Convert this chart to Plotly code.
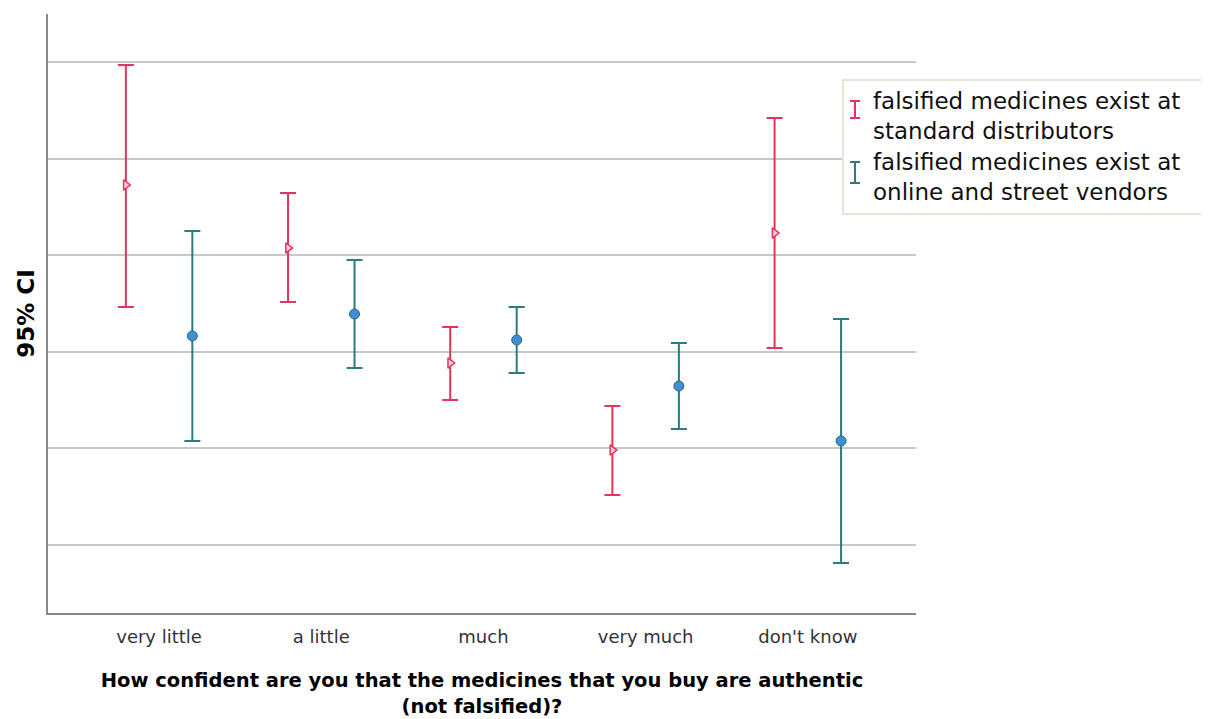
import plotly.graph_objects as go

categories = ["very little", "a little", "much", "very much", "don't know"]

std_mean = [4.727, 4.075, 2.884, 1.983, 4.230]
std_upper = [5.969, 4.644, 3.257, 2.439, 5.420]
std_lower = [3.464, 3.516, 2.501, 1.518, 3.039]

onl_mean = [3.164, 3.391, 3.122, 2.646, 2.077]
onl_upper = [4.251, 3.950, 3.464, 3.091, 3.340]
onl_lower = [2.077, 2.832, 2.781, 2.201, 0.814]

series_names = ["falsified medicines exist at<br>standard distributors",
                "falsified medicines exist at<br>online and street vendors"]

RED = "#e6335c"
TEAL = "#2b7c7c"
offset = 0.205
idx = list(range(len(categories)))
FONT = "DejaVu Sans, Liberation Sans, Arial, sans-serif"

# plot-area geometry in screenshot pixels (for the hand-built legend)
PX_L, PX_R, PX_T, PX_B = 48, 916, 14, 613


def px2paper_x(px):
    return (px - PX_L) / (PX_R - PX_L)


def px2paper_y(py):
    return (PX_B - py) / (PX_B - PX_T)


fig = go.Figure()

fig.add_trace(go.Scatter(
    x=[i - offset for i in idx], y=std_mean, mode="markers", name=series_names[0], showlegend=False,
    marker=dict(symbol="triangle-right", size=9, color="#fbd3de", line=dict(color=RED, width=1.5)),
    error_y=dict(type="data", symmetric=False,
                 array=[u - m for u, m in zip(std_upper, std_mean)],
                 arrayminus=[m - l for m, l in zip(std_mean, std_lower)],
                 color=RED, thickness=2, width=8),
))
fig.add_trace(go.Scatter(
    x=[i + offset for i in idx], y=onl_mean, mode="markers", name=series_names[1], showlegend=False,
    marker=dict(symbol="circle", size=10, color="#3f8fd8", line=dict(color="#2a6a70", width=1)),
    error_y=dict(type="data", symmetric=False,
                 array=[u - m for u, m in zip(onl_upper, onl_mean)],
                 arrayminus=[m - l for m, l in zip(onl_mean, onl_lower)],
                 color=TEAL, thickness=2, width=8),
))

shapes = []
annotations = []
# legend box
shapes.append(dict(type="rect", xref="paper", yref="paper",
                   x0=px2paper_x(843), x1=px2paper_x(1220),
                   y0=px2paper_y(214), y1=px2paper_y(80),
                   line=dict(color="#e6e6d6", width=2), fillcolor="white", layer="above"))
legend_rows = [(RED, 101, 118, 115.5), (TEAL, 162, 183, 176.5)]
for (col, ytop, ybot, ytext), name in zip(legend_rows, series_names):
    xc = 855
    for seg in [(xc, ytop, xc, ybot), (xc - 5, ytop, xc + 5, ytop), (xc - 5, ybot, xc + 5, ybot)]:
        shapes.append(dict(type="line", xref="paper", yref="paper",
                           x0=px2paper_x(seg[0]), y0=px2paper_y(seg[1]),
                           x1=px2paper_x(seg[2]), y1=px2paper_y(seg[3]),
                           line=dict(color=col, width=2), layer="above"))
    annotations.append(dict(xref="paper", yref="paper", x=px2paper_x(871), y=px2paper_y(ytext),
                            xanchor="left", yanchor="middle", align="left", showarrow=False,
                            text=name, font=dict(family=FONT, size=23, color="#111")))

fig.update_layout(
    width=1201, height=711,
    margin=dict(l=40, r=293, t=6, b=106),
    plot_bgcolor="white", paper_bgcolor="white",
    font=dict(family=FONT, color="#000"),
    showlegend=False,
    shapes=shapes, annotations=annotations,
    xaxis=dict(
        range=[-0.685, 4.667], tickmode="array", tickvals=idx, ticktext=categories,
        showgrid=False, zeroline=False, showline=True, linecolor="#888", linewidth=2,
        ticks="", tickfont=dict(size=18, color="#333"), ticklabelstandoff=6,
        title=dict(text="<b>How confident are you that the medicines that you buy are authentic<br>(not falsified)?</b>",
                   font=dict(size=19.5, color="#000"), standoff=28),
    ),
    yaxis=dict(
        range=[0.296, 6.497], tickmode="array", tickvals=[1, 2, 3, 4, 5, 6],
        showticklabels=False, ticks="",
        showgrid=True, gridcolor="#c8c8c8", gridwidth=1.5,
        zeroline=False, showline=True, linecolor="#888", linewidth=2,
        title=dict(text="<b>95% CI</b>", font=dict(size=23, color="#000"), standoff=5),
    ),
)

fig.write_html("out.html")
